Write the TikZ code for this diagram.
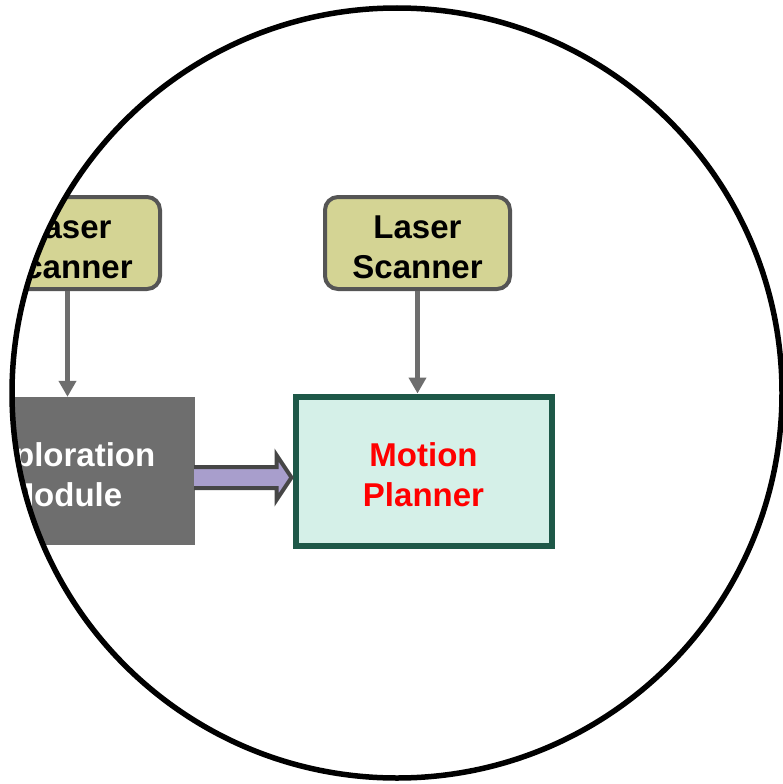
\documentclass[tikz,border=0pt]{standalone}
\usepackage{fontspec}
\setmainfont{Liberation Sans}
\usetikzlibrary{arrows.meta,calc}
\definecolor{lsfill}{RGB}{212,212,148}
\definecolor{lsline}{RGB}{85,85,85}
\definecolor{exfill}{RGB}{110,110,110}
\definecolor{mpfill}{RGB}{213,240,232}
\definecolor{mpline}{RGB}{30,88,72}
\definecolor{arrowgray}{RGB}{110,110,110}
\definecolor{fatfill}{RGB}{168,158,204}
\definecolor{fatline}{RGB}{70,70,70}
\tikzset{
  boxtext/.style={font=\fontsize{33}{40}\selectfont\bfseries, align=center, inner sep=0pt,
    text height=71pt, text depth=0pt},
  scannerbox/.style={boxtext, draw=lsline, fill=lsfill, line width=4pt, rounded corners=13pt,
    minimum width=185pt, minimum height=92pt},
  explorebox/.style={boxtext, fill=exfill, text=white, minimum width=261pt, minimum height=148pt},
  plannerbox/.style={boxtext, draw=mpline, fill=mpfill, text=red, line width=6pt,
    minimum width=256pt, minimum height=149pt},
  thinarrow/.style={draw=arrowgray, line width=5pt, -{Triangle[width=17pt,length=16pt]}},
  fatarrow/.style={draw=fatline, fill=fatfill, line width=4pt, line join=miter},
}
\begin{document}
\begin{tikzpicture}[x=1pt,y=-1pt]
\useasboundingbox (0,0) rectangle (782,784);
\fill[white] (0,0) rectangle (782,784);
\begin{scope}
  \clip (397,393) circle (385);
  \node[scannerbox] (ls1) at (67.5,243) {Laser\\Scanner};
  \node[scannerbox] (ls2) at (417.5,243) {Laser\\Scanner};
  \node[explorebox] (ex) at (64.5,471) {Exploration\\Module};
  \node[plannerbox] (mp) at (423.5,471) {Motion\\Planner};
  \draw[thinarrow] (ls1.south) -- (ls1.south |- ex.north);
  \draw[thinarrow] (ls2.south) -- (ls2.south |- mp.north);
  \draw[fatarrow] ($(ex.east)+(-1,-4)$) -- ($(mp.west)+(-16,-4)$) -- ($(mp.west)+(-16,-16)$)
     -- ($(mp.west)+(-1,6.5)$) -- ($(mp.west)+(-16,29)$) -- ($(mp.west)+(-16,17)$)
     -- ($(ex.east)+(-1,17)$);
\end{scope}
\draw[line width=5.5pt, black] (397,393) circle (385);
\end{tikzpicture}
\end{document}
